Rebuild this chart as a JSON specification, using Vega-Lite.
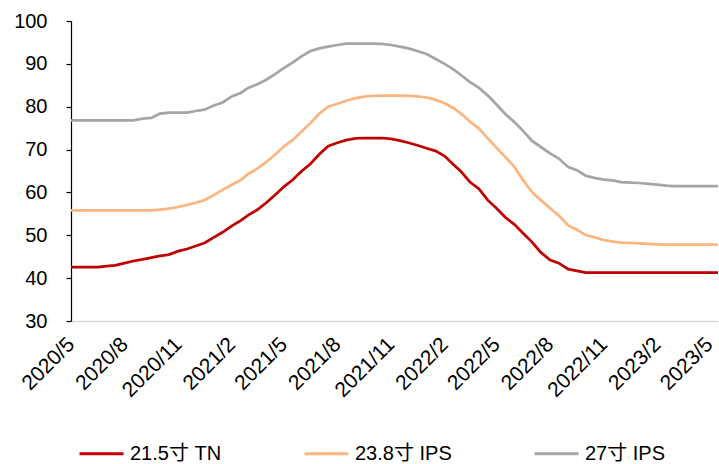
{
  "$schema": "https://vega.github.io/schema/vega-lite/v6.json",
  "autosize": "none",
  "width": 647,
  "height": 300,
  "padding": {"left": 71, "top": 21, "right": 1, "bottom": 143},
  "background": "white",
  "config": {
    "view": {"stroke": null},
    "font": "Liberation Sans, Noto Sans CJK SC",
    "axis": {"labelFont": "Liberation Sans, Noto Sans CJK SC", "labelColor": "#000000", "grid": false, "title": null},
    "legend": {"labelFont": "Liberation Sans, Noto Sans CJK SC"}
  },
  "data": {"values": [
    {"date":"2020-05-01","s":"21.5寸 TN","v":42.6},{"date":"2020-05-16","s":"21.5寸 TN","v":42.6},{"date":"2020-06-01","s":"21.5寸 TN","v":42.6},{"date":"2020-06-16","s":"21.5寸 TN","v":42.6},
    {"date":"2020-07-01","s":"21.5寸 TN","v":42.8},{"date":"2020-07-16","s":"21.5寸 TN","v":43.0},{"date":"2020-08-01","s":"21.5寸 TN","v":43.5},{"date":"2020-08-16","s":"21.5寸 TN","v":44.0},
    {"date":"2020-09-01","s":"21.5寸 TN","v":44.4},{"date":"2020-09-16","s":"21.5寸 TN","v":44.8},{"date":"2020-10-01","s":"21.5寸 TN","v":45.2},{"date":"2020-10-16","s":"21.5寸 TN","v":45.5},
    {"date":"2020-11-01","s":"21.5寸 TN","v":46.3},{"date":"2020-11-16","s":"21.5寸 TN","v":46.8},{"date":"2020-12-01","s":"21.5寸 TN","v":47.5},{"date":"2020-12-16","s":"21.5寸 TN","v":48.2},
    {"date":"2021-01-01","s":"21.5寸 TN","v":49.5},{"date":"2021-01-16","s":"21.5寸 TN","v":50.7},{"date":"2021-02-01","s":"21.5寸 TN","v":52.2},{"date":"2021-02-16","s":"21.5寸 TN","v":53.4},
    {"date":"2021-03-01","s":"21.5寸 TN","v":54.7},{"date":"2021-03-16","s":"21.5寸 TN","v":55.9},{"date":"2021-04-01","s":"21.5寸 TN","v":57.6},{"date":"2021-04-16","s":"21.5寸 TN","v":59.4},
    {"date":"2021-05-01","s":"21.5寸 TN","v":61.3},{"date":"2021-05-16","s":"21.5寸 TN","v":62.9},{"date":"2021-06-01","s":"21.5寸 TN","v":65.0},{"date":"2021-06-16","s":"21.5寸 TN","v":66.7},
    {"date":"2021-07-01","s":"21.5寸 TN","v":68.9},{"date":"2021-07-16","s":"21.5寸 TN","v":70.8},{"date":"2021-08-01","s":"21.5寸 TN","v":71.6},{"date":"2021-08-16","s":"21.5寸 TN","v":72.2},
    {"date":"2021-09-01","s":"21.5寸 TN","v":72.6},{"date":"2021-09-16","s":"21.5寸 TN","v":72.7},{"date":"2021-10-01","s":"21.5寸 TN","v":72.7},{"date":"2021-10-16","s":"21.5寸 TN","v":72.7},
    {"date":"2021-11-01","s":"21.5寸 TN","v":72.5},{"date":"2021-11-16","s":"21.5寸 TN","v":72.1},{"date":"2021-12-01","s":"21.5寸 TN","v":71.6},{"date":"2021-12-16","s":"21.5寸 TN","v":71.0},
    {"date":"2022-01-01","s":"21.5寸 TN","v":70.3},{"date":"2022-01-16","s":"21.5寸 TN","v":69.7},{"date":"2022-02-01","s":"21.5寸 TN","v":68.5},{"date":"2022-02-16","s":"21.5寸 TN","v":66.5},
    {"date":"2022-03-01","s":"21.5寸 TN","v":64.9},{"date":"2022-03-16","s":"21.5寸 TN","v":62.5},{"date":"2022-04-01","s":"21.5寸 TN","v":60.8},{"date":"2022-04-16","s":"21.5寸 TN","v":58.2},
    {"date":"2022-05-01","s":"21.5寸 TN","v":56.3},{"date":"2022-05-16","s":"21.5寸 TN","v":54.2},{"date":"2022-06-01","s":"21.5寸 TN","v":52.5},{"date":"2022-06-16","s":"21.5寸 TN","v":50.4},
    {"date":"2022-07-01","s":"21.5寸 TN","v":48.4},{"date":"2022-07-16","s":"21.5寸 TN","v":46.0},{"date":"2022-08-01","s":"21.5寸 TN","v":44.2},{"date":"2022-08-16","s":"21.5寸 TN","v":43.5},
    {"date":"2022-09-01","s":"21.5寸 TN","v":42.1},{"date":"2022-09-16","s":"21.5寸 TN","v":41.7},{"date":"2022-10-01","s":"21.5寸 TN","v":41.3},{"date":"2022-10-16","s":"21.5寸 TN","v":41.3},
    {"date":"2022-11-01","s":"21.5寸 TN","v":41.3},{"date":"2022-11-16","s":"21.5寸 TN","v":41.3},{"date":"2022-12-01","s":"21.5寸 TN","v":41.3},{"date":"2022-12-16","s":"21.5寸 TN","v":41.3},
    {"date":"2023-01-01","s":"21.5寸 TN","v":41.3},{"date":"2023-01-16","s":"21.5寸 TN","v":41.3},{"date":"2023-02-01","s":"21.5寸 TN","v":41.3},{"date":"2023-02-16","s":"21.5寸 TN","v":41.3},
    {"date":"2023-03-01","s":"21.5寸 TN","v":41.3},{"date":"2023-03-16","s":"21.5寸 TN","v":41.3},{"date":"2023-04-01","s":"21.5寸 TN","v":41.3},{"date":"2023-04-16","s":"21.5寸 TN","v":41.3},
    {"date":"2023-05-01","s":"21.5寸 TN","v":41.3},{"date":"2023-05-16","s":"21.5寸 TN","v":41.3},

    {"date":"2020-05-01","s":"23.8寸 IPS","v":55.8},{"date":"2020-05-16","s":"23.8寸 IPS","v":55.8},{"date":"2020-06-01","s":"23.8寸 IPS","v":55.8},{"date":"2020-06-16","s":"23.8寸 IPS","v":55.8},
    {"date":"2020-07-01","s":"23.8寸 IPS","v":55.8},{"date":"2020-07-16","s":"23.8寸 IPS","v":55.8},{"date":"2020-08-01","s":"23.8寸 IPS","v":55.8},{"date":"2020-08-16","s":"23.8寸 IPS","v":55.8},
    {"date":"2020-09-01","s":"23.8寸 IPS","v":55.8},{"date":"2020-09-16","s":"23.8寸 IPS","v":55.8},{"date":"2020-10-01","s":"23.8寸 IPS","v":56.0},{"date":"2020-10-16","s":"23.8寸 IPS","v":56.2},
    {"date":"2020-11-01","s":"23.8寸 IPS","v":56.6},{"date":"2020-11-16","s":"23.8寸 IPS","v":57.1},{"date":"2020-12-01","s":"23.8寸 IPS","v":57.6},{"date":"2020-12-16","s":"23.8寸 IPS","v":58.2},
    {"date":"2021-01-01","s":"23.8寸 IPS","v":59.4},{"date":"2021-01-16","s":"23.8寸 IPS","v":60.6},{"date":"2021-02-01","s":"23.8寸 IPS","v":61.8},{"date":"2021-02-16","s":"23.8寸 IPS","v":62.9},
    {"date":"2021-03-01","s":"23.8寸 IPS","v":64.3},{"date":"2021-03-16","s":"23.8寸 IPS","v":65.5},{"date":"2021-04-01","s":"23.8寸 IPS","v":67.1},{"date":"2021-04-16","s":"23.8寸 IPS","v":68.8},
    {"date":"2021-05-01","s":"23.8寸 IPS","v":70.7},{"date":"2021-05-16","s":"23.8寸 IPS","v":72.2},{"date":"2021-06-01","s":"23.8寸 IPS","v":74.3},{"date":"2021-06-16","s":"23.8寸 IPS","v":76.2},
    {"date":"2021-07-01","s":"23.8寸 IPS","v":78.4},{"date":"2021-07-16","s":"23.8寸 IPS","v":80.0},{"date":"2021-08-01","s":"23.8寸 IPS","v":80.7},{"date":"2021-08-16","s":"23.8寸 IPS","v":81.4},
    {"date":"2021-09-01","s":"23.8寸 IPS","v":82.0},{"date":"2021-09-16","s":"23.8寸 IPS","v":82.35},{"date":"2021-10-01","s":"23.8寸 IPS","v":82.55},{"date":"2021-10-16","s":"23.8寸 IPS","v":82.6},
    {"date":"2021-11-01","s":"23.8寸 IPS","v":82.6},{"date":"2021-11-16","s":"23.8寸 IPS","v":82.6},{"date":"2021-12-01","s":"23.8寸 IPS","v":82.55},{"date":"2021-12-16","s":"23.8寸 IPS","v":82.4},
    {"date":"2022-01-01","s":"23.8寸 IPS","v":82.15},{"date":"2022-01-16","s":"23.8寸 IPS","v":81.65},{"date":"2022-02-01","s":"23.8寸 IPS","v":80.8},{"date":"2022-02-16","s":"23.8寸 IPS","v":79.7},
    {"date":"2022-03-01","s":"23.8寸 IPS","v":78.4},{"date":"2022-03-16","s":"23.8寸 IPS","v":76.6},{"date":"2022-04-01","s":"23.8寸 IPS","v":74.9},{"date":"2022-04-16","s":"23.8寸 IPS","v":72.6},
    {"date":"2022-05-01","s":"23.8寸 IPS","v":70.4},{"date":"2022-05-16","s":"23.8寸 IPS","v":68.3},{"date":"2022-06-01","s":"23.8寸 IPS","v":65.9},{"date":"2022-06-16","s":"23.8寸 IPS","v":62.8},
    {"date":"2022-07-01","s":"23.8寸 IPS","v":60.1},{"date":"2022-07-16","s":"23.8寸 IPS","v":58.2},{"date":"2022-08-01","s":"23.8寸 IPS","v":56.3},{"date":"2022-08-16","s":"23.8寸 IPS","v":54.6},
    {"date":"2022-09-01","s":"23.8寸 IPS","v":52.3},{"date":"2022-09-16","s":"23.8寸 IPS","v":51.3},{"date":"2022-10-01","s":"23.8寸 IPS","v":50.05},{"date":"2022-10-16","s":"23.8寸 IPS","v":49.5},
    {"date":"2022-11-01","s":"23.8寸 IPS","v":48.9},{"date":"2022-11-16","s":"23.8寸 IPS","v":48.5},{"date":"2022-12-01","s":"23.8寸 IPS","v":48.3},{"date":"2022-12-16","s":"23.8寸 IPS","v":48.2},
    {"date":"2023-01-01","s":"23.8寸 IPS","v":48.1},{"date":"2023-01-16","s":"23.8寸 IPS","v":48.0},{"date":"2023-02-01","s":"23.8寸 IPS","v":47.9},{"date":"2023-02-16","s":"23.8寸 IPS","v":47.8},
    {"date":"2023-03-01","s":"23.8寸 IPS","v":47.8},{"date":"2023-03-16","s":"23.8寸 IPS","v":47.8},{"date":"2023-04-01","s":"23.8寸 IPS","v":47.8},{"date":"2023-04-16","s":"23.8寸 IPS","v":47.8},
    {"date":"2023-05-01","s":"23.8寸 IPS","v":47.8},{"date":"2023-05-16","s":"23.8寸 IPS","v":47.8},

    {"date":"2020-05-01","s":"27寸 IPS","v":76.8},{"date":"2020-05-16","s":"27寸 IPS","v":76.8},{"date":"2020-06-01","s":"27寸 IPS","v":76.8},{"date":"2020-06-16","s":"27寸 IPS","v":76.8},
    {"date":"2020-07-01","s":"27寸 IPS","v":76.8},{"date":"2020-07-16","s":"27寸 IPS","v":76.8},{"date":"2020-08-01","s":"27寸 IPS","v":76.8},{"date":"2020-08-16","s":"27寸 IPS","v":76.8},
    {"date":"2020-09-01","s":"27寸 IPS","v":77.2},{"date":"2020-09-16","s":"27寸 IPS","v":77.4},{"date":"2020-10-01","s":"27寸 IPS","v":78.4},{"date":"2020-10-16","s":"27寸 IPS","v":78.6},
    {"date":"2020-11-01","s":"27寸 IPS","v":78.6},{"date":"2020-11-16","s":"27寸 IPS","v":78.6},{"date":"2020-12-01","s":"27寸 IPS","v":79.0},{"date":"2020-12-16","s":"27寸 IPS","v":79.3},
    {"date":"2021-01-01","s":"27寸 IPS","v":80.3},{"date":"2021-01-16","s":"27寸 IPS","v":81.0},{"date":"2021-02-01","s":"27寸 IPS","v":82.4},{"date":"2021-02-16","s":"27寸 IPS","v":83.2},
    {"date":"2021-03-01","s":"27寸 IPS","v":84.4},{"date":"2021-03-16","s":"27寸 IPS","v":85.2},{"date":"2021-04-01","s":"27寸 IPS","v":86.3},{"date":"2021-04-16","s":"27寸 IPS","v":87.6},
    {"date":"2021-05-01","s":"27寸 IPS","v":89.0},{"date":"2021-05-16","s":"27寸 IPS","v":90.3},{"date":"2021-06-01","s":"27寸 IPS","v":91.8},{"date":"2021-06-16","s":"27寸 IPS","v":93.0},
    {"date":"2021-07-01","s":"27寸 IPS","v":93.6},{"date":"2021-07-16","s":"27寸 IPS","v":94.0},{"date":"2021-08-01","s":"27寸 IPS","v":94.4},{"date":"2021-08-16","s":"27寸 IPS","v":94.7},
    {"date":"2021-09-01","s":"27寸 IPS","v":94.7},{"date":"2021-09-16","s":"27寸 IPS","v":94.7},{"date":"2021-10-01","s":"27寸 IPS","v":94.7},{"date":"2021-10-16","s":"27寸 IPS","v":94.65},
    {"date":"2021-11-01","s":"27寸 IPS","v":94.4},{"date":"2021-11-16","s":"27寸 IPS","v":94.0},{"date":"2021-12-01","s":"27寸 IPS","v":93.6},{"date":"2021-12-16","s":"27寸 IPS","v":93.0},
    {"date":"2022-01-01","s":"27寸 IPS","v":92.3},{"date":"2022-01-16","s":"27寸 IPS","v":91.2},{"date":"2022-02-01","s":"27寸 IPS","v":90.0},{"date":"2022-02-16","s":"27寸 IPS","v":88.7},
    {"date":"2022-03-01","s":"27寸 IPS","v":87.4},{"date":"2022-03-16","s":"27寸 IPS","v":85.8},{"date":"2022-04-01","s":"27寸 IPS","v":84.4},{"date":"2022-04-16","s":"27寸 IPS","v":82.6},
    {"date":"2022-05-01","s":"27寸 IPS","v":80.5},{"date":"2022-05-16","s":"27寸 IPS","v":78.3},{"date":"2022-06-01","s":"27寸 IPS","v":76.4},{"date":"2022-06-16","s":"27寸 IPS","v":74.3},
    {"date":"2022-07-01","s":"27寸 IPS","v":72.0},{"date":"2022-07-16","s":"27寸 IPS","v":70.6},{"date":"2022-08-01","s":"27寸 IPS","v":69.1},{"date":"2022-08-16","s":"27寸 IPS","v":67.9},
    {"date":"2022-09-01","s":"27寸 IPS","v":65.9},{"date":"2022-09-16","s":"27寸 IPS","v":65.2},{"date":"2022-10-01","s":"27寸 IPS","v":63.9},{"date":"2022-10-16","s":"27寸 IPS","v":63.4},
    {"date":"2022-11-01","s":"27寸 IPS","v":63.0},{"date":"2022-11-16","s":"27寸 IPS","v":62.8},{"date":"2022-12-01","s":"27寸 IPS","v":62.4},{"date":"2022-12-16","s":"27寸 IPS","v":62.3},
    {"date":"2023-01-01","s":"27寸 IPS","v":62.2},{"date":"2023-01-16","s":"27寸 IPS","v":62.0},{"date":"2023-02-01","s":"27寸 IPS","v":61.8},{"date":"2023-02-16","s":"27寸 IPS","v":61.6},
    {"date":"2023-03-01","s":"27寸 IPS","v":61.5},{"date":"2023-03-16","s":"27寸 IPS","v":61.5},{"date":"2023-04-01","s":"27寸 IPS","v":61.5},{"date":"2023-04-16","s":"27寸 IPS","v":61.5},
    {"date":"2023-05-01","s":"27寸 IPS","v":61.5},{"date":"2023-05-16","s":"27寸 IPS","v":61.5}
  ]},
  "mark": {"type": "line", "strokeWidth": 2.75, "interpolate": "linear"},
  "encoding": {
    "x": {
      "field": "date", "type": "temporal",
      "scale": {"type": "utc", "domain": [{"year": 2020, "month": 5, "date": 1, "utc": true}, {"year": 2023, "month": 5, "date": 16, "utc": true}]},
      "axis": {
        "values": [
          {"year": 2020, "month": 5, "date": 1, "utc": true}, {"year": 2020, "month": 8, "date": 1, "utc": true},
          {"year": 2020, "month": 11, "date": 1, "utc": true}, {"year": 2021, "month": 2, "date": 1, "utc": true},
          {"year": 2021, "month": 5, "date": 1, "utc": true}, {"year": 2021, "month": 8, "date": 1, "utc": true},
          {"year": 2021, "month": 11, "date": 1, "utc": true}, {"year": 2022, "month": 2, "date": 1, "utc": true},
          {"year": 2022, "month": 5, "date": 1, "utc": true}, {"year": 2022, "month": 8, "date": 1, "utc": true},
          {"year": 2022, "month": 11, "date": 1, "utc": true}, {"year": 2023, "month": 2, "date": 1, "utc": true},
          {"year": 2023, "month": 5, "date": 1, "utc": true}
        ],
        "labelExpr": "utcFormat(datum.value, '%Y/%-m')",
        "labelAngle": -45, "labelAlign": "right", "labelBaseline": "middle",
        "labelFontSize": 21, "labelPadding": 20, "labelOverlap": false, "labelFlush": false, "labelBound": false,
        "ticks": false, "domainColor": "#D9D9D9", "domainWidth": 1.5
      }
    },
    "y": {
      "field": "v", "type": "quantitative",
      "scale": {"domain": [30, 100], "nice": false, "zero": false},
      "axis": {
        "values": [30, 40, 50, 60, 70, 80, 90, 100],
        "labelFontSize": 20, "labelPadding": 19, "tickSize": 5, "tickColor": "#000000",
        "domainColor": "#000000", "domainWidth": 1.2, "tickWidth": 1.2
      }
    },
    "color": {
      "field": "s", "type": "nominal",
      "scale": {"domain": ["21.5寸 TN", "23.8寸 IPS", "27寸 IPS"], "range": ["#C00000", "#FBB57F", "#A5A5A5"]},
      "legend": {
        "title": null, "orient": "none", "direction": "horizontal", "columns": 3,
        "legendX": 7, "legendY": 409, "padding": 0,
        "symbolType": "stroke", "symbolSize": 1936, "symbolStrokeWidth": 3,
        "labelFontSize": 20, "labelColor": "#000000", "labelOffset": 5, "columnPadding": 76
      }
    }
  }
}
